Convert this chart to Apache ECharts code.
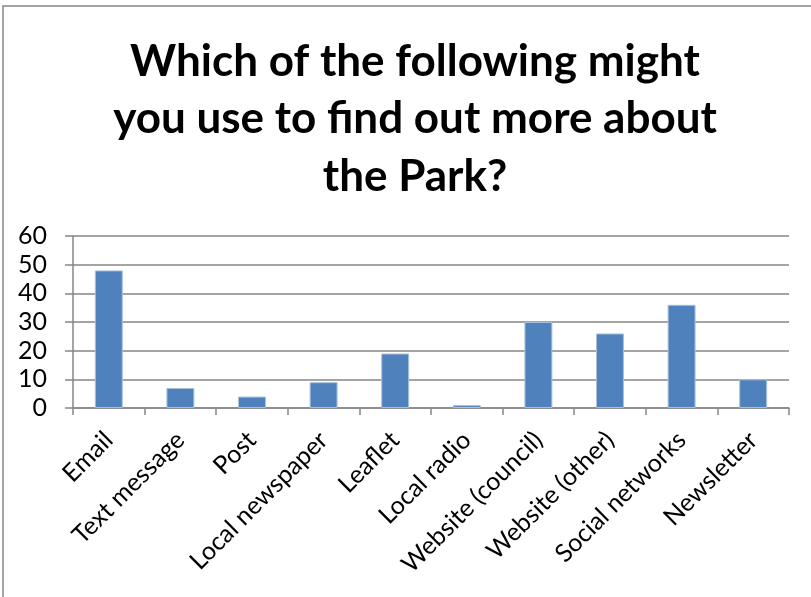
<!DOCTYPE html>
<html>
<head>
<meta charset="utf-8">
<script src="https://cdn.jsdelivr.net/npm/echarts@6/dist/echarts.min.js"></script>
<style>
  html, body { margin: 0; padding: 0; background: #fff; }
  #chart { width: 811px; height: 597px; }
</style>
</head>
<body>
<div id="chart"></div>
<script>
// survey answers
const categories = ["Email", "Text message", "Post", "Local newspaper", "Leaflet",
  "Local radio", "Website (council)", "Website (other)", "Social networks", "Newsletter"];
const counts = [48, 7, 4, 9, 19, 1, 30, 26, 36, 10];
const yTicks = { min: 0, max: 60, interval: 10 };

const chart = echarts.init(document.getElementById("chart"));
const axisGrey = "#868686";

chart.setOption({
  animation: false,
  backgroundColor: "#fff",
  title: {
    text: "Which of the following might\nyou use to find out more about\nthe Park?",
    left: 410,
    top: 28,
    textAlign: "center",
    textStyle: {
      fontFamily: "Lato",
      fontWeight: "bold",
      fontSize: 44,
      lineHeight: 57.5,
      color: "#000"
    }
  },
  // outer frame of the chart (only left and top edges are visible)
  graphic: [{
    type: "rect",
    shape: { x: 3, y: 6, width: 1000, height: 800 },
    style: { fill: null, stroke: axisGrey, lineWidth: 1.5 },
    silent: true
  }],
  grid: { left: 73, right: 22, top: 236, bottom: 189, containLabel: false },
  xAxis: {
    type: "category",
    data: categories,
    axisLine: { lineStyle: { color: axisGrey, width: 1.5 } },
    axisTick: { show: true, length: 7, lineStyle: { color: axisGrey, width: 1.5 } },
    axisLabel: {
      interval: 0,
      rotate: 45,
      margin: 28,
      fontFamily: "Lato",
      fontSize: 25,
      color: "#000"
    }
  },
  yAxis: {
    type: "value",
    min: yTicks.min,
    max: yTicks.max,
    interval: yTicks.interval,
    axisLine: { show: true, lineStyle: { color: axisGrey, width: 1.5 } },
    axisTick: { show: true, length: 8, lineStyle: { color: axisGrey, width: 1.5 } },
    splitLine: { lineStyle: { color: axisGrey, width: 1.5 } },
    axisLabel: {
      margin: 26,
      fontFamily: "Lato",
      fontSize: 25,
      color: "#000"
    }
  },
  series: [{
    type: "bar",
    data: counts,
    barWidth: "39%",
    itemStyle: { color: "#4F81BD", borderColor: "#A7C0DE", borderWidth: 1 }
  }]
});
</script>
</body>
</html>
